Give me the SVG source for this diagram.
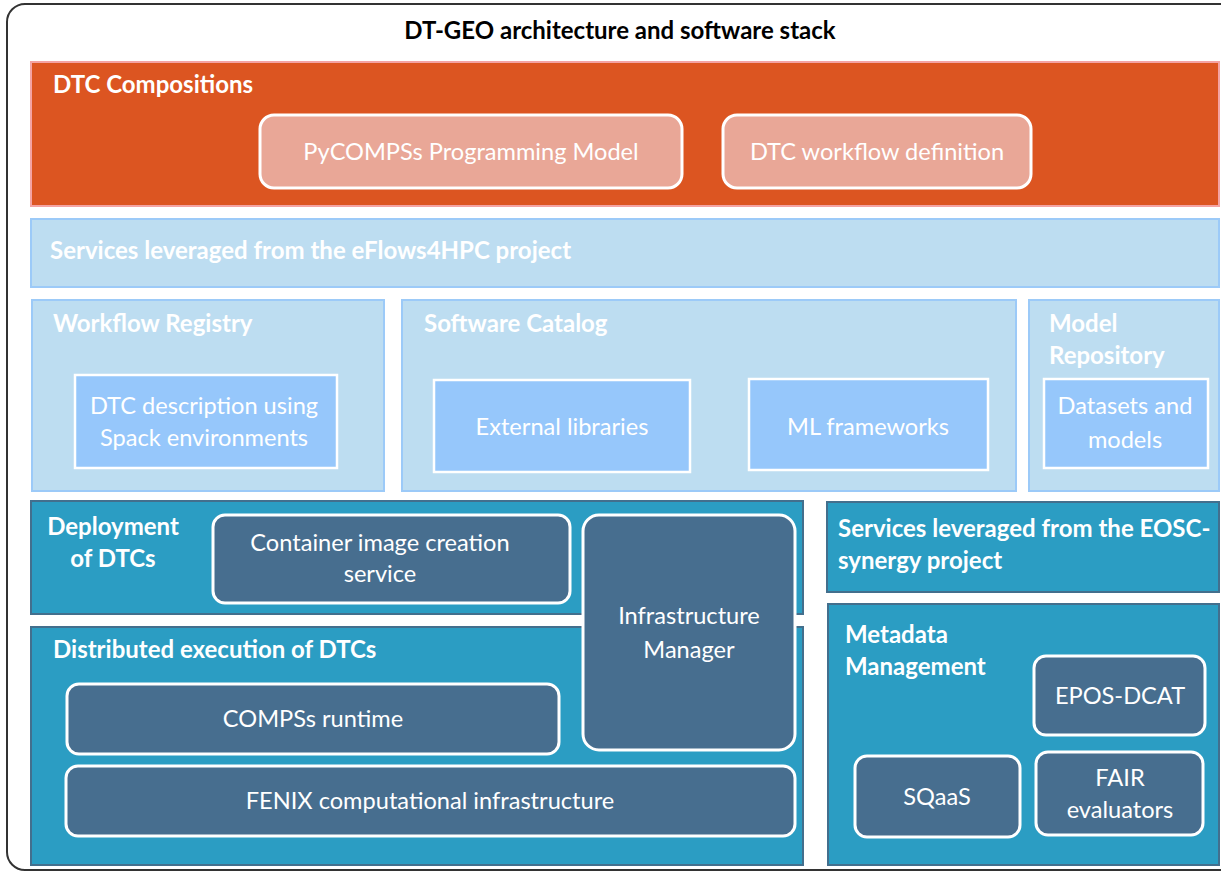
<svg xmlns="http://www.w3.org/2000/svg" width="1221" height="873" viewBox="0 0 1221 873">
<style>
text{font-family:Lato,"Open Sans","Liberation Sans",sans-serif;fill:#ffffff}
.h{font-weight:bold;font-size:24px}
.t{font-size:23.6px}
.c{text-anchor:middle}
.orange{fill:#DC5521;stroke:#F4A3A3;stroke-width:2}
.peach{fill:#E9A797;stroke:#ffffff;stroke-width:3}
.lb{fill:#BDDDF1;stroke:#9CCAF8;stroke-width:2}
.ib{fill:#96C7FB;stroke:#ffffff;stroke-width:2.5}
.teal{fill:#2B9DC3;stroke:#436F8D;stroke-width:2}
.slate{fill:#476E8F;stroke:#ffffff;stroke-width:3}
</style>
<rect x="0" y="0" width="1221" height="873" fill="#ffffff"/>
<g id="frame">
<rect x="7" y="4" width="1240" height="866" rx="18" fill="#ffffff" stroke="#333333" stroke-width="2"/>
<text x="620" y="39" class="c" style="font-weight:bold;font-size:24px;fill:#000000">DT-GEO architecture and software stack</text>
</g>
<g id="dtc-compositions">
<rect x="31" y="62" width="1188" height="144" class="orange"/>
<text x="53" y="93" class="h">DTC Compositions</text>
</g>
<g id="pycompss">
<rect x="260" y="115" width="422" height="73" rx="14" class="peach"/>
<text x="471" y="160" class="t c">PyCOMPSs Programming Model</text>
</g>
<g id="dtc-workflow">
<rect x="723" y="115" width="308" height="73" rx="14" class="peach"/>
<text x="877" y="160" class="t c">DTC workflow definition</text>
</g>
<g id="eflows">
<rect x="31" y="219" width="1188" height="68" class="lb"/>
<text x="50" y="259" class="h">Services leveraged from the eFlows4HPC project</text>
</g>
<g id="workflow-registry">
<rect x="32" y="300" width="352" height="191" class="lb"/>
<text x="53" y="332" class="h">Workflow Registry</text>
</g>
<g id="dtc-description">
<rect x="75" y="375" width="262" height="93" class="ib"/>
<text x="204" y="414" class="t c">DTC description using</text>
<text x="204" y="446" class="t c">Spack environments</text>
</g>
<g id="software-catalog">
<rect x="402" y="300" width="614" height="191" class="lb"/>
<text x="424" y="332" class="h">Software Catalog</text>
</g>
<g id="external-libraries">
<rect x="434" y="380" width="256" height="92" class="ib"/>
<text x="562" y="435" class="t c">External libraries</text>
</g>
<g id="ml-frameworks">
<rect x="749" y="379" width="239" height="91" class="ib"/>
<text x="868" y="435" class="t c">ML frameworks</text>
</g>
<g id="model-repository">
<rect x="1029" y="300" width="190" height="191" class="lb"/>
<text x="1049" y="332" class="h">Model</text>
<text x="1049" y="364" class="h">Repository</text>
</g>
<g id="datasets">
<rect x="1044" y="379" width="164" height="89" class="ib"/>
<text x="1125" y="414" class="t c">Datasets and</text>
<text x="1125" y="448" class="t c">models</text>
</g>
<g id="deployment">
<rect x="31" y="501" width="772" height="113" class="teal"/>
<text x="113" y="535" class="h c">Deployment</text>
<text x="113" y="567" class="h c">of DTCs</text>
</g>
<g id="distributed">
<rect x="31" y="627" width="772" height="238" class="teal"/>
<text x="53" y="658" class="h">Distributed execution of DTCs</text>
</g>
<g id="container-image">
<rect x="213" y="515" width="357" height="88" rx="12" class="slate"/>
<text x="380" y="551" class="t c">Container image creation</text>
<text x="380" y="582" class="t c">service</text>
</g>
<g id="infrastructure-manager">
<rect x="583" y="515" width="212" height="235" rx="16" class="slate"/>
<text x="689" y="624" class="t c">Infrastructure</text>
<text x="689" y="658" class="t c">Manager</text>
</g>
<g id="compss-runtime">
<rect x="67" y="684" width="492" height="70" rx="12" class="slate"/>
<text x="313" y="727" class="t c">COMPSs runtime</text>
</g>
<g id="fenix">
<rect x="66" y="766" width="729" height="70" rx="12" class="slate"/>
<text x="430" y="809" class="t c">FENIX computational infrastructure</text>
</g>
<g id="eosc">
<rect x="827" y="502" width="392" height="90" class="teal"/>
<text x="838" y="537" class="h">Services leveraged from the EOSC-</text>
<text x="838" y="569" class="h">synergy project</text>
</g>
<g id="metadata">
<rect x="828" y="604" width="391" height="261" class="teal"/>
<text x="845" y="643" class="h">Metadata</text>
<text x="845" y="675" class="h">Management</text>
</g>
<g id="epos-dcat">
<rect x="1034" y="656" width="171" height="79" rx="12" class="slate"/>
<text x="1120" y="704" class="t c">EPOS-DCAT</text>
</g>
<g id="sqaas">
<rect x="855" y="756" width="165" height="81" rx="12" class="slate"/>
<text x="937" y="805" class="t c">SQaaS</text>
</g>
<g id="fair">
<rect x="1036" y="752" width="167" height="83" rx="12" class="slate"/>
<text x="1120" y="786" class="t c">FAIR</text>
<text x="1120" y="818" class="t c">evaluators</text>
</g>
<g id="connectors"></g>
</svg>
